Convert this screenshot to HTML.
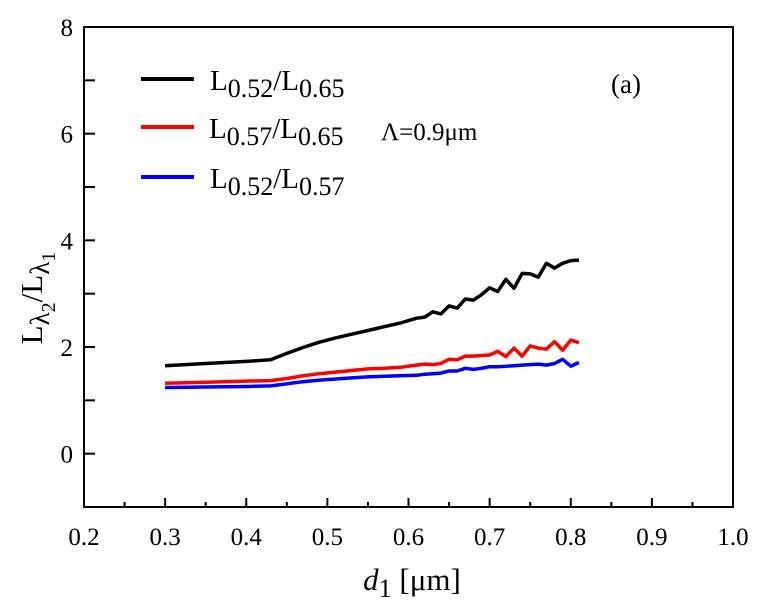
<!DOCTYPE html>
<html><head><meta charset="utf-8"><style>
body{margin:0;background:#fff;}
svg{display:block;font-family:"Liberation Serif",serif;}
</style></head><body>
<svg id="chart" width="762" height="614" xmlns="http://www.w3.org/2000/svg">
<g id="axes"></g><g id="series"></g>
<g>
 <g>
  <line x1="141" y1="79" x2="194" y2="79" stroke="#000" stroke-width="4"/>
  <text x="210" y="90" font-size="29">L<tspan font-size="26" dy="7">0.52</tspan><tspan dy="-7">/L</tspan><tspan font-size="26" dy="7">0.65</tspan></text>
 </g>
 <g>
  <line x1="141" y1="127" x2="194" y2="127" stroke="#f00" stroke-width="4"/>
  <text x="209" y="138" font-size="29">L<tspan font-size="26" dy="7">0.57</tspan><tspan dy="-7">/L</tspan><tspan font-size="26" dy="7">0.65</tspan></text>
 </g>
 <g>
  <line x1="141" y1="177" x2="194" y2="177" stroke="#00f" stroke-width="4"/>
  <text x="210" y="188" font-size="29">L<tspan font-size="26" dy="7">0.52</tspan><tspan dy="-7">/L</tspan><tspan font-size="26" dy="7">0.57</tspan></text>
 </g>
</g>
<text x="381" y="140" font-size="25">Λ=0.9μm</text>
<text x="611" y="93" font-size="27">(a)</text>
<text x="412" y="590" font-size="31" text-anchor="middle"><tspan font-style="italic">d</tspan><tspan font-size="26" dy="7">1</tspan><tspan dy="-7"> [μm]</tspan></text>
<text transform="translate(42,298) rotate(-90)" font-size="31" text-anchor="middle">L<tspan font-size="27" dy="7">λ</tspan><tspan font-size="20" dy="6">2</tspan><tspan dy="-13">/L</tspan><tspan font-size="27" dy="7">λ</tspan><tspan font-size="20" dy="6">1</tspan></text>
</svg>
<script>
const xTicks=[0.2,0.3,0.4,0.5,0.6,0.7,0.8,0.9,1.0];
const xTickLabels=["0.2","0.3","0.4","0.5","0.6","0.7","0.8","0.9","1.0"];
const yTicks=[0,2,4,6,8];
const yTickLabels=["0","2","4","6","8"];
const dValues=[0.30,0.35,0.40,0.43,0.45,0.47,0.49,0.51,0.53,0.55,0.57,0.59,0.61,0.62,0.63,0.64,0.65,0.66,0.67,0.68,0.69,0.70,0.71,0.72,0.73,0.74,0.75,0.76,0.77,0.78,0.79,0.80,0.81];
const ratio5265=[1.65,1.69,1.73,1.76,1.88,1.99,2.09,2.17,2.24,2.31,2.38,2.45,2.54,2.56,2.66,2.62,2.77,2.73,2.90,2.88,2.98,3.11,3.04,3.27,3.10,3.38,3.37,3.31,3.57,3.48,3.57,3.62,3.63];
const ratio5765=[1.32,1.34,1.36,1.37,1.41,1.46,1.50,1.53,1.56,1.59,1.60,1.62,1.66,1.68,1.67,1.69,1.77,1.76,1.83,1.83,1.84,1.85,1.92,1.82,1.98,1.83,2.02,1.98,1.96,2.10,1.94,2.13,2.08];
const ratio5257=[1.24,1.25,1.26,1.27,1.31,1.35,1.38,1.40,1.42,1.44,1.45,1.46,1.47,1.49,1.50,1.51,1.55,1.55,1.60,1.58,1.60,1.63,1.63,1.64,1.65,1.66,1.67,1.68,1.66,1.69,1.77,1.64,1.71];

const X0=84,X1=733,Y0=507,Y1=27;
const xs=v=>X0+(v-0.2)/0.8*(X1-X0);
const ys=v=>Y0-(v+1)/9*(Y0-Y1);
const NS="http://www.w3.org/2000/svg";
const axes=document.getElementById('axes');
function mk(tag,attrs,parent){const e=document.createElementNS(NS,tag);for(const k in attrs)e.setAttribute(k,attrs[k]);parent.appendChild(e);return e;}
const frame=mk('rect',{x:X0,y:Y1,width:X1-X0,height:Y0-Y1,fill:'none',stroke:'#000','stroke-width':2},axes);


xTicks.forEach((t,i)=>{
  const x=xs(t);
  const tk=mk('line',{x1:x,x2:x,y1:Y0,y2:Y0-9,stroke:'#000','stroke-width':2},axes);
  
  
  if(i<xTicks.length-1){const m=mk('line',{x1:xs(t+0.05),x2:xs(t+0.05),y1:Y0,y2:Y0-5,stroke:'#000','stroke-width':2},axes);
    
    }
  const lb=mk('text',{x:x,y:Y0+38,'font-size':25,'text-anchor':'middle'},axes);
  lb.textContent=xTickLabels[i];
  
  
});
yTicks.forEach((t,i)=>{
  const y=ys(t);
  const tk=mk('line',{x1:X0,x2:X0+11,y1:y,y2:y,stroke:'#000','stroke-width':2},axes);
  
  
  const m=mk('line',{x1:X0,x2:X0+11,y1:ys(t-1),y2:ys(t-1),stroke:'#000','stroke-width':2},axes);
  
  
  const lb=mk('text',{x:X0-11,y:y+9,'font-size':25,'text-anchor':'end'},axes);
  lb.textContent=yTickLabels[i];
  
  
});
const ser=document.getElementById('series');
[[ratio5265,'#000','line-l052-l065'],[ratio5765,'#f00','line-l057-l065'],[ratio5257,'#00f','line-l052-l057']].forEach(([vals,c,n])=>{
  const pts=vals.map((v,i)=>xs(dValues[i]).toFixed(1)+','+ys(v).toFixed(1)).join(' ');
  const p=mk('polyline',{points:pts,fill:'none',stroke:c,'stroke-width':3.5,'stroke-linejoin':'round'},ser);
  
  
});
</script>
</body></html>
